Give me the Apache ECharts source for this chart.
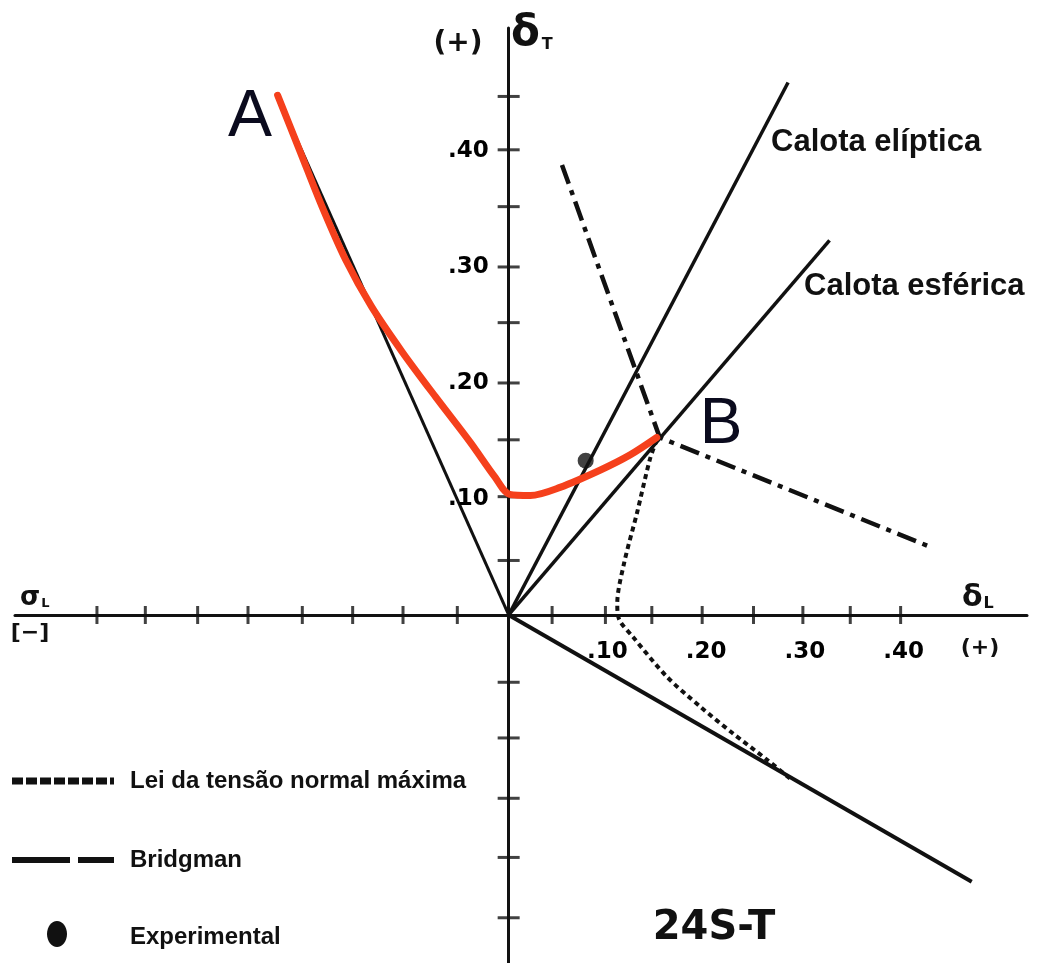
<!DOCTYPE html>
<html>
<head>
<meta charset="utf-8">
<script src="https://cdn.jsdelivr.net/npm/echarts@6/dist/echarts.min.js"></script>
<style>
  html, body { margin: 0; padding: 0; background: #fff; }
  #chart { width: 1047px; height: 963px; }
</style>
</head>
<body>
<div id="chart"></div>
<script>
// Stress plane: longitudinal stress (x) against tangential stress (y)

// Optimum failure envelope A -> B (highlighted)
const envelopeAB = [
  [-0.234, 0.448], [-0.211, 0.399], [-0.189, 0.352], [-0.165, 0.306],
  [-0.139, 0.266], [-0.108, 0.227], [-0.074, 0.188], [-0.039, 0.149],
  [-0.014, 0.119], [0.001, 0.104], [0.022, 0.103], [0.052, 0.110],
  [0.093, 0.125], [0.123, 0.138], [0.150, 0.153]
];
// Straight line from A back to the origin
const lineAOrigin = [[-0.234, 0.447], [0, 0]];
// Black curve beneath the envelope, starting on the tangential axis
const lowerCurve = [[0, 0.102], [0.032, 0.104], [0.077, 0.118], [0.118, 0.135], [0.150, 0.151]];
// Load paths from the origin
const calotaEliptica = [[0, 0], [0.283, 0.459]];
const calotaEsferica = [[0, 0], [0.325, 0.323]];
const lowerRay = [[0, 0], [0.469, -0.230]];
// Bridgman criterion
const bridgman = [[0.054, 0.388], [0.153, 0.153], [0.429, 0.058]];
// Maximum normal stress law
const tensaoNormal = [
  [0.150, 0.151], [0.143, 0.134], [0.130, 0.088], [0.117, 0.045],
  [0.110, 0.010], [0.112, -0.004], [0.126, -0.019], [0.160, -0.053],
  [0.194, -0.079], [0.227, -0.102], [0.262, -0.125], [0.285, -0.141]
];
// Experimental result
const experimental = [[0.078, 0.133]];

// Tick marks as drawn on both axes
const xTicks = [-0.417, -0.368, -0.315, -0.264, -0.209, -0.158, -0.107, -0.052,
                0.044, 0.098, 0.145, 0.196, 0.248, 0.298, 0.346, 0.397];
const yTicks = [0.047, 0.102, 0.151, 0.200, 0.252, 0.300, 0.352, 0.401, 0.447,
                -0.058, -0.106, -0.158, -0.209, -0.261];
// Tick labels
const xLabelValues = [0.1, 0.2, 0.3, 0.4];
const xLabelTexts = ['.10', '.20', '.30', '.40'];
const yLabelValues = [0.1, 0.2, 0.3, 0.4];
const yLabelTexts = ['.10', '.20', '.30', '.40'];

const INK = '#111';
const RED = '#f5401c';

function lineSeries(name, data, style, extra) {
  return Object.assign({
    name: name,
    type: 'line',
    data: data,
    symbol: 'none',
    silent: true,
    lineStyle: Object.assign({ color: INK, width: 3 }, style),
    z: 3
  }, extra || {});
}

function tickLabelSeries(name, points, texts, position, distance) {
  return {
    name: name, type: 'scatter', silent: true,
    data: points.map((p, i) => ({ value: p, label: { formatter: texts[i] } })),
    symbolSize: 0,
    itemStyle: { color: '#000', opacity: 1 },
    label: {
      show: true, position: position, distance: distance,
      color: '#000', opacity: 1, textBorderWidth: 0,
      fontFamily: 'DejaVu Sans', fontWeight: 'bold', fontSize: 23
    },
    z: 4
  };
}

const chart = echarts.init(document.getElementById('chart'), null, { renderer: 'canvas' });

chart.setOption({
  animation: false,
  backgroundColor: '#fff',
  grid: { left: 15, right: 20, top: 28, bottom: 0, containLabel: false, outerBoundsMode: 'none' },
  xAxis: {
    type: 'value',
    min: -0.5,
    max: 0.525,
    axisLine: { onZero: true, lineStyle: { color: INK, width: 3 } },
    axisTick: { show: false },
    splitLine: { show: false },
    axisLabel: { show: false }
  },
  yAxis: {
    type: 'value',
    min: -0.3,
    max: 0.506,
    axisLine: { onZero: true, lineStyle: { color: INK, width: 3 } },
    axisTick: { show: false },
    splitLine: { show: false },
    axisLabel: { show: false }
  },
  series: [
    {
      name: 'xTicks', type: 'scatter', silent: true,
      data: xTicks.map(v => [v, 0]),
      symbol: 'rect', symbolSize: [3, 18],
      itemStyle: { color: INK }, z: 4
    },
    {
      name: 'yTicks', type: 'scatter', silent: true,
      data: yTicks.map(v => [0, v]),
      symbol: 'rect', symbolSize: [22, 3],
      itemStyle: { color: INK }, z: 4
    },
    tickLabelSeries('xLabels', xLabelValues.map(v => [v, 0]), xLabelTexts, 'bottom', 26),
    tickLabelSeries('yLabels', yLabelValues.map(v => [0, v]), yLabelTexts, 'left', 20),
    lineSeries('lineAOrigin', lineAOrigin, { width: 3 }),
    lineSeries('Calota elíptica', calotaEliptica, { width: 3.5 }),
    lineSeries('Calota esférica', calotaEsferica, { width: 3.5 }),
    lineSeries('lowerRay', lowerRay, { width: 4 }),
    lineSeries('Bridgman', bridgman, { width: 4.5, type: [20, 7, 5, 7] }),
    lineSeries('Lei da tensão normal máxima', tensaoNormal, { width: 4, type: [5, 4] }, { smooth: 0.3 }),
    lineSeries('lowerCurve', lowerCurve, { width: 3 }, { smooth: 0.3 }),
    lineSeries('envelopeAB', envelopeAB, { color: RED, width: 7, cap: 'round', join: 'round' }, { smooth: 0.3, z: 6 }),
    {
      name: 'Experimental', type: 'scatter', silent: true,
      data: experimental,
      symbol: 'circle', symbolSize: 16,
      itemStyle: { color: INK }, z: 5
    }
  ],
  graphic: [
    // axis end labels
    { type: 'text', x: 458, y: 44, style: { text: '(+)', font: 'bold 28px "DejaVu Sans"', fill: INK, align: 'center', verticalAlign: 'middle' } },
    { type: 'text', x: 511, y: 34, style: { text: '{a|δ}{b|T}', fill: INK, align: 'left', verticalAlign: 'middle',
        rich: { a: { font: 'bold 42px "DejaVu Sans"', fill: INK }, b: { font: 'bold 16px "DejaVu Sans"', fill: INK, padding: [22, 0, 0, 2] } } } },
    { type: 'text', x: 20, y: 598, style: { text: '{a|σ}{b|L}', fill: INK, align: 'left', verticalAlign: 'middle',
        rich: { a: { font: 'bold 26px "DejaVu Sans"', fill: INK }, b: { font: 'bold 13px "DejaVu Sans"', fill: INK, padding: [12, 0, 0, 1] } } } },
    { type: 'text', x: 30, y: 633, style: { text: '[−]', font: 'bold 22px "DejaVu Sans"', fill: INK, align: 'center', verticalAlign: 'middle' } },
    { type: 'text', x: 962, y: 598, style: { text: '{a|δ}{b|L}', fill: INK, align: 'left', verticalAlign: 'middle',
        rich: { a: { font: 'bold 30px "DejaVu Sans"', fill: INK }, b: { font: 'bold 16px "DejaVu Sans"', fill: INK, padding: [12, 0, 0, 1] } } } },
    { type: 'text', x: 980, y: 648, style: { text: '(+)', font: 'bold 22px "DejaVu Sans"', fill: INK, align: 'center', verticalAlign: 'middle' } },

    // point labels
    { type: 'text', x: 250, y: 118, style: { text: 'A', font: '66px "Liberation Sans"', fill: '#0b0b1e', align: 'center', verticalAlign: 'middle' } },
    { type: 'text', x: 721, y: 425, style: { text: 'B', font: '64px "Liberation Sans"', fill: '#0b0b1e', align: 'center', verticalAlign: 'middle' } },
    { type: 'text', x: 771, y: 142, style: { text: 'Calota elíptica', font: 'bold 31px "Liberation Sans"', fill: INK, align: 'left', verticalAlign: 'middle' } },
    { type: 'text', x: 804, y: 286, style: { text: 'Calota esférica', font: 'bold 31px "Liberation Sans"', fill: INK, align: 'left', verticalAlign: 'middle' } },
    { type: 'text', x: 714, y: 929, style: { text: '24S-T', font: 'bold 40px "DejaVu Sans"', fill: INK, align: 'center', verticalAlign: 'middle' } },

    // key
    { type: 'line', shape: { x1: 12, y1: 781, x2: 114, y2: 781 }, style: { stroke: INK, lineWidth: 7, lineDash: [11, 3] } },
    { type: 'text', x: 130, y: 781, style: { text: 'Lei da tensão normal máxima', font: 'bold 24px "Liberation Sans"', fill: INK, align: 'left', verticalAlign: 'middle' } },
    { type: 'line', shape: { x1: 12, y1: 860, x2: 114, y2: 860 }, style: { stroke: INK, lineWidth: 6, lineDash: [58, 8] } },
    { type: 'text', x: 130, y: 860, style: { text: 'Bridgman', font: 'bold 24px "Liberation Sans"', fill: INK, align: 'left', verticalAlign: 'middle' } },
    { type: 'ellipse', shape: { cx: 57, cy: 934, rx: 10, ry: 13 }, style: { fill: INK } },
    { type: 'text', x: 130, y: 937, style: { text: 'Experimental', font: 'bold 24px "Liberation Sans"', fill: INK, align: 'left', verticalAlign: 'middle' } }
  ]
});
</script>
</body>
</html>
